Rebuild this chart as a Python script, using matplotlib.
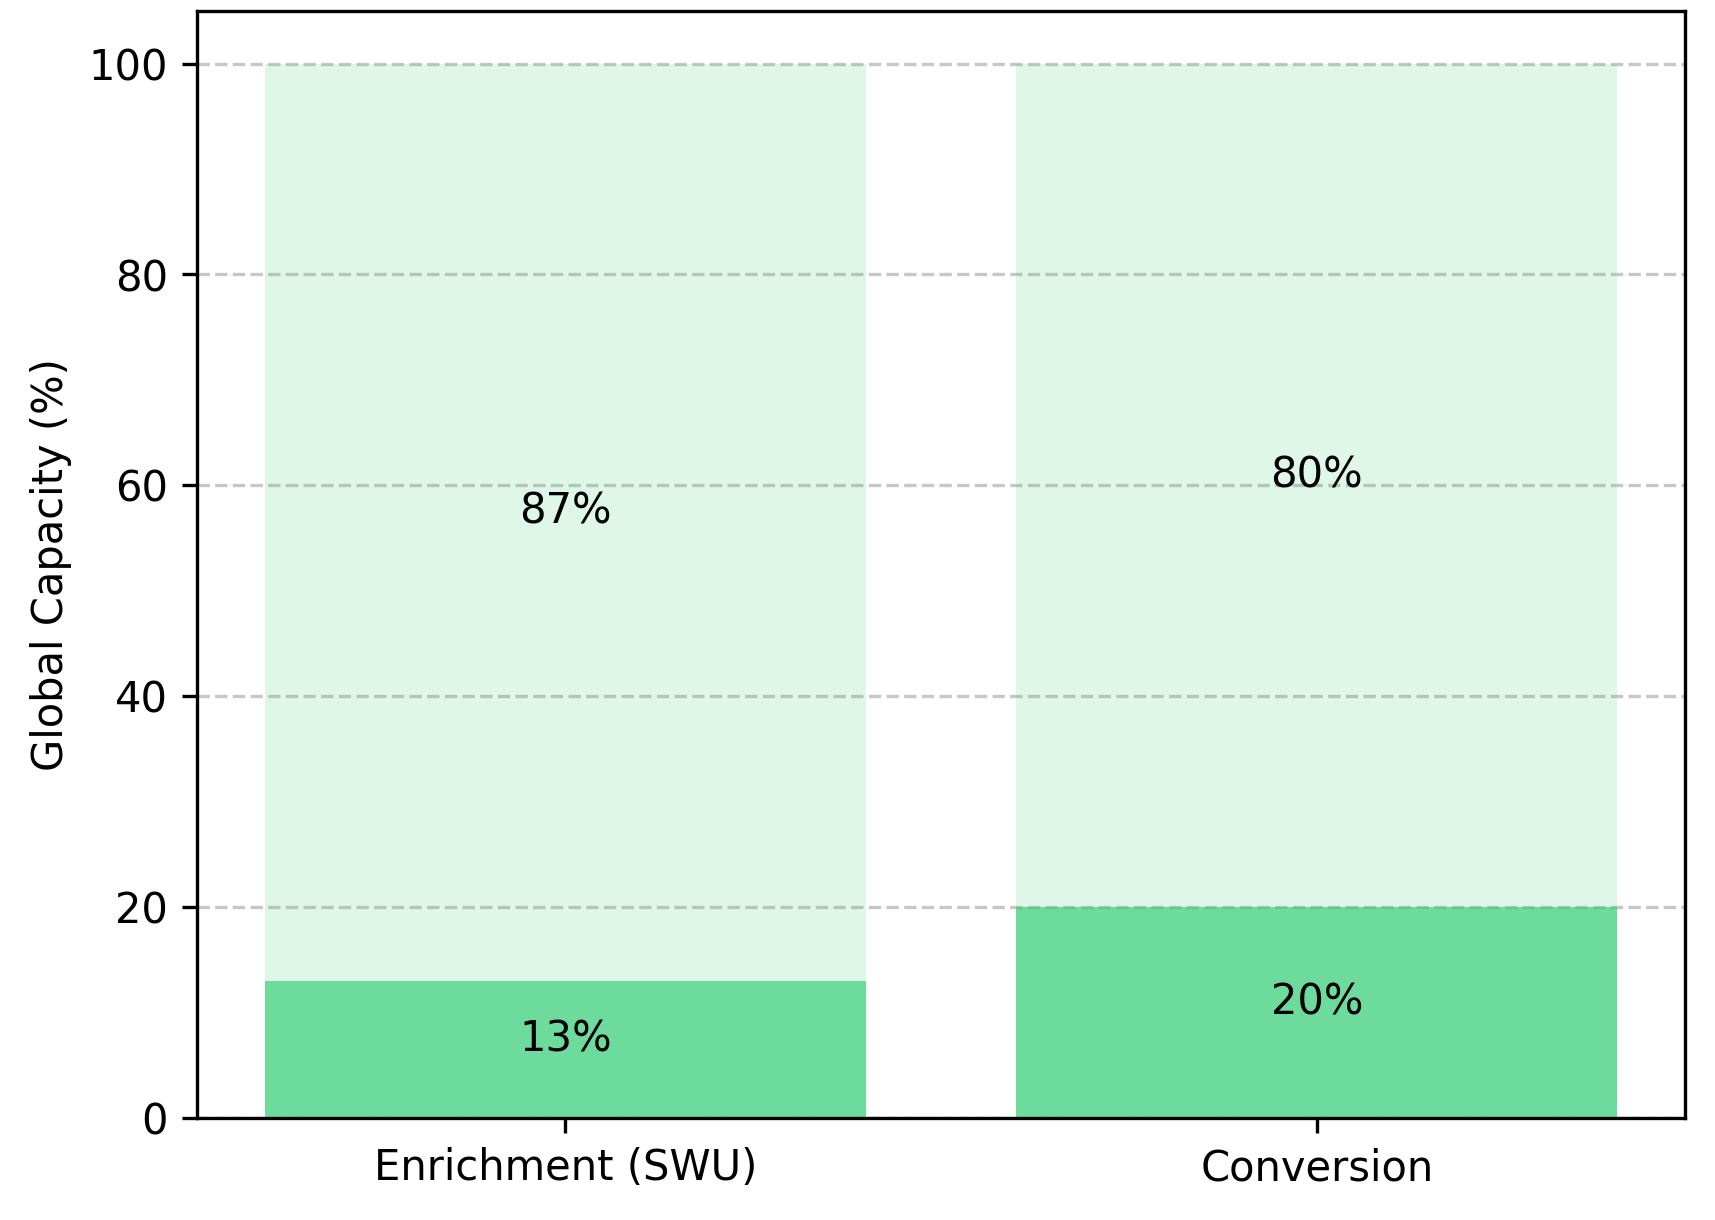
import matplotlib
matplotlib.use('Agg')
import matplotlib.pyplot as plt

# Data
categories = ['Enrichment (SWU)', 'Conversion']
share_main = [13, 20]        # darker segment (%)
share_rest = [87, 80]        # lighter segment (%)

fig, ax = plt.subplots(figsize=(5.717, 4.067), dpi=300)
fig.subplots_adjust(left=0.115, right=0.9825, top=0.991, bottom=0.0836)

x = range(len(categories))
bars_main = ax.bar(x, share_main, width=0.8, color='#2ecc71', alpha=0.7)
bars_rest = ax.bar(x, share_rest, width=0.8, bottom=share_main, color='#2ecc71', alpha=0.15)

# Percent labels at the middle of each segment
for i in x:
    ax.annotate(f'{share_main[i]}%', (i, share_main[i] / 2), xytext=(0, 2.5),
                textcoords='offset points', ha='center', va='center', fontsize=10)
    ax.annotate(f'{share_rest[i]}%', (i, share_main[i] + share_rest[i] / 2), xytext=(0, 2.5),
                textcoords='offset points', ha='center', va='center', fontsize=10)

ax.set_xticks(list(x))
ax.set_xticklabels(categories)
ax.set_ylabel('Global Capacity (%)')
ax.grid(axis='y', linestyle='--', alpha=0.7)
ax.set_axisbelow(True)

plt.savefig('out.png', dpi=300)
